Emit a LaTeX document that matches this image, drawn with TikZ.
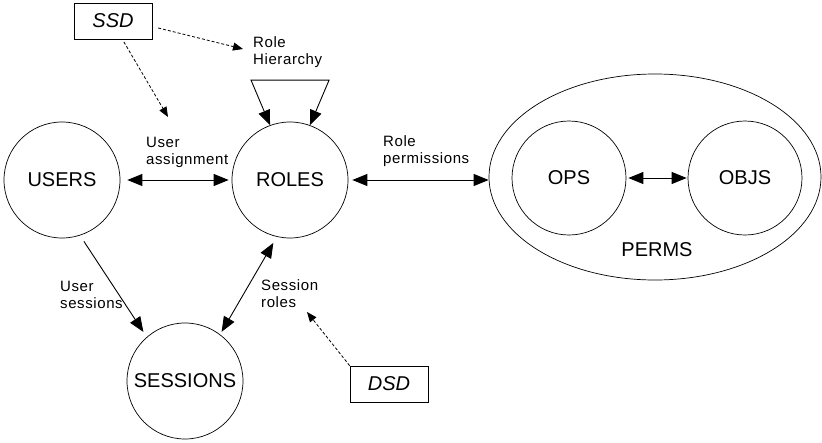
\documentclass[tikz,border=0pt]{standalone}
\usepackage{fontspec}
\setmainfont{Liberation Sans}
\newfontfamily\lblfont[LetterSpace=4]{Liberation Sans}
\usetikzlibrary{arrows.meta, shapes.geometric}
\tikzset{
    x=1pt, y=-1pt, % pixel-like coordinates, y grows downwards
    >={Triangle[length=15pt, width=12pt]}, % big filled heads
    every node/.style={font=\fontsize{20}{24}\selectfont},
    set/.style={circle, draw, line width=0.7pt, minimum size=116pt, inner sep=0pt},
    constraint/.style={draw, line width=0.7pt, minimum width=78pt, minimum height=36pt, inner sep=0pt, font=\fontsize{20}{24}\selectfont\itshape},
    relation/.style={anchor=base west, inner sep=0pt, align=left, font=\lblfont\fontsize{15}{17}\selectfont},
    link/.style={line width=0.9pt},
    sod/.style={-{Triangle[length=10pt, width=8pt]}, dash pattern=on 3pt off 2pt, line width=0.8pt},
}
\begin{document}
\begin{tikzpicture}
    \useasboundingbox (0,0) rectangle (822,442);
    % the element sets
    \node[set] (users) at (62,180) {USERS};
    \node[set] (roles) at (290,180) {ROLES};
    \node[set] (sessions) at (185,381) {SESSIONS};
    \node[ellipse, draw, line width=0.7pt, minimum width=332pt, minimum height=206pt, inner sep=0pt] (perms) at (655,177) {};
    \node[set, minimum size=114pt] (ops) at (569,178) {OPS};
    \node[set, minimum size=114pt] (objs) at (745,178) {OBJS};
    \node (permslbl) at (657,250) {PERMS};
    % constraints
    \node[constraint] (ssd) at (113,21) {SSD};
    \node[constraint] (dsd) at (389,384) {DSD};
    % relation labels (base = last line)
    \node[relation] (ualbl) at (146,164) {User\\assignment};
    \node[relation] (rplbl) at (383,163) {Role\\permissions};
    \node[relation] (rhlbl) at (253,64) {Role\\Hierarchy};
    \node[relation] (uslbl) at (60,308) {User\\sessions};
    \node[relation] (srlbl) at (261,307) {Session\\roles};
    \coordinate (rhtip) at (243,49);
    \coordinate (uatip) at (168,117);
    \coordinate (srtip) at (307,312);
    % relations
    \draw[link, <->, shorten <=7pt, shorten >=3pt] (users.east) -- (roles.west);
    \draw[link, <->, shorten <=4pt] (roles.east) -- (roles.east -| perms.west);
    \draw[link, <->, shorten <=2pt, shorten >=1pt] (ops.east) -- (objs.west);
    \draw[link, ->, shorten <=7pt, shorten >=6pt] (users.288) -- (sessions.131);
    \draw[link, <->, shorten <=7pt, shorten >=3pt] (roles.257) -- (sessions.53);
    \draw[link, <->] (roles.110) -- ++(-19,-45) -- ++(78,0) -- (roles.70);
    % separation of duty
    \draw[sod, shorten <=6pt] (ssd.352) -- (rhtip);
    \draw[sod, shorten <=3pt] (ssd.297) -- (uatip);
    \draw[sod] (dsd.north west) -- (srtip);
\end{tikzpicture}
\end{document}
